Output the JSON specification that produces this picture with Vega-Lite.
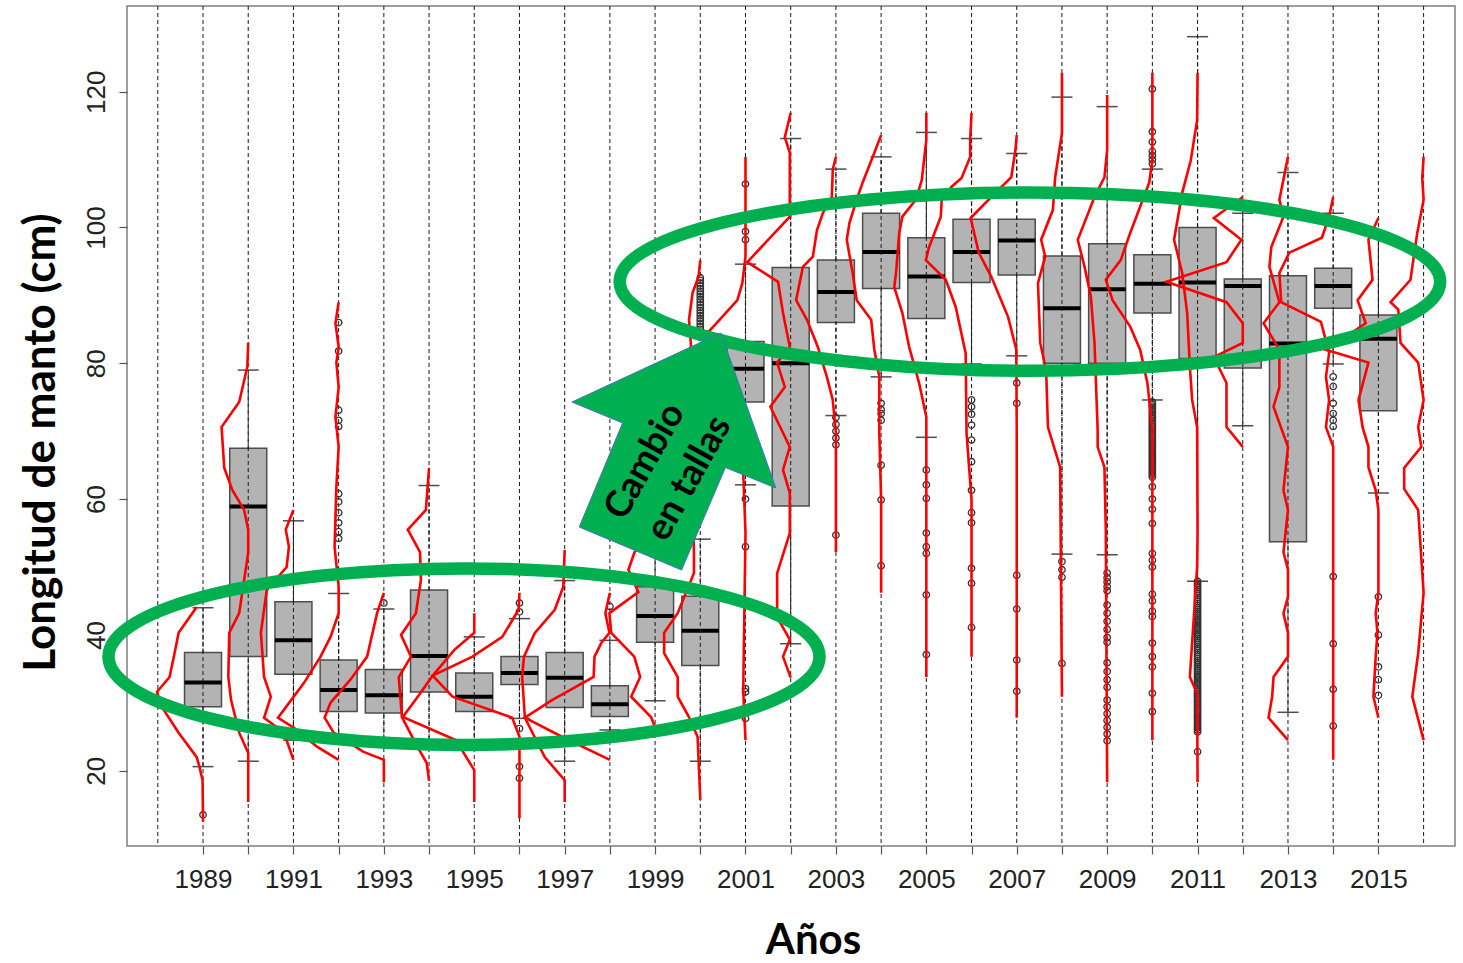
{
  "$schema": "https://vega.github.io/schema/vega-lite/v6.json",
  "width": 1328,
  "height": 840,
  "autosize": {"type": "none"},
  "padding": {"left": 127, "top": 6, "right": 8, "bottom": 117},
  "background": "white",
  "config": {"view": {"stroke": "#7f7f7f", "strokeWidth": 1.5}},
  "datasets": {
    "anios": [
      {"anio":1988},{"anio":1989},{"anio":1990},{"anio":1991},{"anio":1992},{"anio":1993},{"anio":1994},{"anio":1995},{"anio":1996},{"anio":1997},
      {"anio":1998},{"anio":1999},{"anio":2000},{"anio":2001},{"anio":2002},{"anio":2003},{"anio":2004},{"anio":2005},{"anio":2006},{"anio":2007},
      {"anio":2008},{"anio":2009},{"anio":2010},{"anio":2011},{"anio":2012},{"anio":2013},{"anio":2014},{"anio":2015},{"anio":2016}
    ],
    "cajas": [
      {"anio":1989,"inf":20.6,"q1":29.4,"mediana":33.0,"q3":37.4,"sup":44.0},
      {"anio":1990,"inf":21.4,"q1":36.8,"mediana":58.9,"q3":67.5,"sup":79.0},
      {"anio":1991,"inf":24.5,"q1":34.2,"mediana":39.2,"q3":44.9,"sup":56.8},
      {"anio":1992,"inf":24.5,"q1":28.7,"mediana":31.9,"q3":36.3,"sup":46.1},
      {"anio":1993,"inf":23.5,"q1":28.5,"mediana":31.1,"q3":34.9,"sup":43.8},
      {"anio":1994,"inf":23.5,"q1":31.6,"mediana":36.9,"q3":46.6,"sup":62.0},
      {"anio":1995,"inf":24.0,"q1":28.7,"mediana":30.9,"q3":34.4,"sup":39.7},
      {"anio":1996,"inf":27.7,"q1":32.7,"mediana":34.4,"q3":36.8,"sup":42.4},
      {"anio":1997,"inf":21.4,"q1":29.3,"mediana":33.7,"q3":37.4,"sup":48.0},
      {"anio":1998,"inf":26.0,"q1":28.0,"mediana":29.8,"q3":32.5,"sup":39.2},
      {"anio":1999,"inf":30.3,"q1":38.9,"mediana":42.8,"q3":47.1,"sup":56.0},
      {"anio":2000,"inf":21.4,"q1":35.5,"mediana":40.6,"q3":45.7,"sup":54.1},
      {"anio":2001,"inf":62.1,"q1":74.3,"mediana":79.2,"q3":83.2,"sup":94.6},
      {"anio":2002,"inf":38.7,"q1":59.0,"mediana":80.0,"q3":94.1,"sup":113.1},
      {"anio":2003,"inf":72.3,"q1":86.0,"mediana":90.5,"q3":95.2,"sup":108.6},
      {"anio":2004,"inf":78.0,"q1":91.0,"mediana":96.4,"q3":102.1,"sup":110.4},
      {"anio":2005,"inf":69.1,"q1":86.6,"mediana":92.8,"q3":98.5,"sup":114.0},
      {"anio":2006,"inf":79.9,"q1":91.9,"mediana":96.4,"q3":101.2,"sup":113.1},
      {"anio":2007,"inf":81.1,"q1":93.0,"mediana":98.1,"q3":101.2,"sup":110.9},
      {"anio":2008,"inf":51.9,"q1":80.0,"mediana":88.1,"q3":95.8,"sup":119.2},
      {"anio":2009,"inf":51.8,"q1":80.0,"mediana":90.9,"q3":97.6,"sup":117.8},
      {"anio":2010,"inf":74.6,"q1":87.4,"mediana":91.7,"q3":96.0,"sup":108.6},
      {"anio":2011,"inf":47.9,"q1":80.7,"mediana":91.9,"q3":100.0,"sup":128.1},
      {"anio":2012,"inf":70.8,"q1":79.3,"mediana":91.4,"q3":92.4,"sup":102.1},
      {"anio":2013,"inf":28.6,"q1":53.7,"mediana":82.9,"q3":92.9,"sup":108.1},
      {"anio":2014,"inf":79.9,"q1":88.1,"mediana":91.4,"q3":94.0,"sup":102.1},
      {"anio":2015,"inf":60.9,"q1":73.0,"mediana":83.6,"q3":87.1,"sup":99.0}
    ],
    "atipicos": [
      {"anio":1989,"talla":13.5},
      {"anio":1992,"talla":86.0},{"anio":1992,"talla":81.8},{"anio":1992,"talla":73.1},{"anio":1992,"talla":71.6},{"anio":1992,"talla":70.7},{"anio":1992,"talla":60.8},{"anio":1992,"talla":59.6},{"anio":1992,"talla":58.0},{"anio":1992,"talla":56.5},{"anio":1992,"talla":55.2},{"anio":1992,"talla":54.2},
      {"anio":1993,"talla":44.7},
      {"anio":1996,"talla":44.7},{"anio":1996,"talla":43.4},{"anio":1996,"talla":26.2},{"anio":1996,"talla":20.6},{"anio":1996,"talla":18.9},
      {"anio":1998,"talla":44.2},
      {"anio":2000,"talla":92.6},{"anio":2000,"talla":92.2},{"anio":2000,"talla":91.8},{"anio":2000,"talla":91.4},{"anio":2000,"talla":91.0},{"anio":2000,"talla":90.6},{"anio":2000,"talla":90.2},{"anio":2000,"talla":89.8},{"anio":2000,"talla":89.4},{"anio":2000,"talla":89.0},{"anio":2000,"talla":88.6},{"anio":2000,"talla":88.2},{"anio":2000,"talla":87.8},{"anio":2000,"talla":87.4},{"anio":2000,"talla":87.0},{"anio":2000,"talla":86.6},{"anio":2000,"talla":86.2},{"anio":2000,"talla":85.8},{"anio":2000,"talla":85.4},{"anio":2000,"talla":85.0},
      {"anio":2001,"talla":106.4},{"anio":2001,"talla":99.4},{"anio":2001,"talla":98.2},{"anio":2001,"talla":60.0},{"anio":2001,"talla":53.0},{"anio":2001,"talla":32.1},{"anio":2001,"talla":31.6},{"anio":2001,"talla":27.7},
      {"anio":2003,"talla":72.0},{"anio":2003,"talla":71.0},{"anio":2003,"talla":70.0},{"anio":2003,"talla":69.0},{"anio":2003,"talla":68.0},{"anio":2003,"talla":54.7},
      {"anio":2004,"talla":74.1},{"anio":2004,"talla":73.2},{"anio":2004,"talla":72.6},{"anio":2004,"talla":71.6},{"anio":2004,"talla":65.0},{"anio":2004,"talla":59.9},{"anio":2004,"talla":50.2},
      {"anio":2005,"talla":64.3},{"anio":2005,"talla":62.1},{"anio":2005,"talla":60.1},{"anio":2005,"talla":55.0},{"anio":2005,"talla":53.0},{"anio":2005,"talla":52.0},{"anio":2005,"talla":45.9},{"anio":2005,"talla":37.1},
      {"anio":2006,"talla":74.6},{"anio":2006,"talla":73.6},{"anio":2006,"talla":72.5},{"anio":2006,"talla":70.9},{"anio":2006,"talla":68.7},{"anio":2006,"talla":65.5},{"anio":2006,"talla":61.3},{"anio":2006,"talla":58.0},{"anio":2006,"talla":56.5},{"anio":2006,"talla":49.8},{"anio":2006,"talla":47.6},{"anio":2006,"talla":41.1},
      {"anio":2007,"talla":77.1},{"anio":2007,"talla":74.1},{"anio":2007,"talla":48.8},{"anio":2007,"talla":43.8},{"anio":2007,"talla":36.3},{"anio":2007,"talla":31.7},
      {"anio":2008,"talla":50.8},{"anio":2008,"talla":49.6},{"anio":2008,"talla":48.5},{"anio":2008,"talla":35.8},
      {"anio":2009,"talla":49.1},{"anio":2009,"talla":48.4},{"anio":2009,"talla":47.8},{"anio":2009,"talla":47.1},{"anio":2009,"talla":46.5},{"anio":2009,"talla":44.4},{"anio":2009,"talla":43.2},{"anio":2009,"talla":42.0},{"anio":2009,"talla":40.8},{"anio":2009,"talla":39.6},{"anio":2009,"talla":38.9},{"anio":2009,"talla":35.9},{"anio":2009,"talla":34.6},{"anio":2009,"talla":33.4},{"anio":2009,"talla":32.3},{"anio":2009,"talla":30.4},{"anio":2009,"talla":29.4},{"anio":2009,"talla":28.4},{"anio":2009,"talla":27.4},{"anio":2009,"talla":26.4},{"anio":2009,"talla":25.4},{"anio":2009,"talla":24.4},
      {"anio":2010,"talla":120.4},{"anio":2010,"talla":114.1},{"anio":2010,"talla":112.6},{"anio":2010,"talla":111.2},{"anio":2010,"talla":110.6},{"anio":2010,"talla":110.0},{"anio":2010,"talla":109.4},
      {"anio":2010,"talla":74.3},{"anio":2010,"talla":74.0},{"anio":2010,"talla":73.7},{"anio":2010,"talla":73.4},{"anio":2010,"talla":73.1},{"anio":2010,"talla":72.8},{"anio":2010,"talla":72.5},{"anio":2010,"talla":72.2},{"anio":2010,"talla":71.9},{"anio":2010,"talla":71.6},{"anio":2010,"talla":71.3},{"anio":2010,"talla":71.0},{"anio":2010,"talla":70.7},{"anio":2010,"talla":70.4},{"anio":2010,"talla":70.1},{"anio":2010,"talla":69.8},{"anio":2010,"talla":69.5},{"anio":2010,"talla":69.2},{"anio":2010,"talla":68.9},{"anio":2010,"talla":68.6},{"anio":2010,"talla":68.3},{"anio":2010,"talla":68.0},{"anio":2010,"talla":67.7},{"anio":2010,"talla":67.4},{"anio":2010,"talla":67.1},{"anio":2010,"talla":66.8},{"anio":2010,"talla":66.5},{"anio":2010,"talla":66.2},{"anio":2010,"talla":65.9},{"anio":2010,"talla":65.6},{"anio":2010,"talla":65.3},{"anio":2010,"talla":65.0},{"anio":2010,"talla":64.7},{"anio":2010,"talla":64.4},{"anio":2010,"talla":64.1},{"anio":2010,"talla":63.8},{"anio":2010,"talla":63.5},{"anio":2010,"talla":63.2},
      {"anio":2010,"talla":61.8},{"anio":2010,"talla":60.0},{"anio":2010,"talla":58.5},{"anio":2010,"talla":56.4},{"anio":2010,"talla":52.0},{"anio":2010,"talla":51.0},{"anio":2010,"talla":50.0},{"anio":2010,"talla":46.0},{"anio":2010,"talla":45.0},{"anio":2010,"talla":43.5},{"anio":2010,"talla":42.7},{"anio":2010,"talla":38.8},{"anio":2010,"talla":36.8},{"anio":2010,"talla":35.3},{"anio":2010,"talla":31.4},{"anio":2010,"talla":28.7},
      {"anio":2011,"talla":47.9},{"anio":2011,"talla":47.6},{"anio":2011,"talla":47.3},{"anio":2011,"talla":47.0},{"anio":2011,"talla":46.7},{"anio":2011,"talla":46.4},{"anio":2011,"talla":46.1},{"anio":2011,"talla":45.8},{"anio":2011,"talla":45.5},{"anio":2011,"talla":45.2},{"anio":2011,"talla":44.9},{"anio":2011,"talla":44.6},{"anio":2011,"talla":44.3},{"anio":2011,"talla":44.0},{"anio":2011,"talla":43.7},{"anio":2011,"talla":43.4},{"anio":2011,"talla":43.1},{"anio":2011,"talla":42.8},{"anio":2011,"talla":42.5},{"anio":2011,"talla":42.2},{"anio":2011,"talla":41.9},{"anio":2011,"talla":41.6},{"anio":2011,"talla":41.3},{"anio":2011,"talla":41.0},{"anio":2011,"talla":40.7},{"anio":2011,"talla":40.4},{"anio":2011,"talla":40.1},{"anio":2011,"talla":39.8},{"anio":2011,"talla":39.5},{"anio":2011,"talla":39.2},{"anio":2011,"talla":38.9},{"anio":2011,"talla":38.6},{"anio":2011,"talla":38.3},{"anio":2011,"talla":38.0},{"anio":2011,"talla":37.7},{"anio":2011,"talla":37.4},{"anio":2011,"talla":37.1},{"anio":2011,"talla":36.8},
      {"anio":2011,"talla":36.5},{"anio":2011,"talla":36.2},{"anio":2011,"talla":35.9},{"anio":2011,"talla":35.6},{"anio":2011,"talla":35.3},{"anio":2011,"talla":35.0},{"anio":2011,"talla":34.7},{"anio":2011,"talla":34.4},{"anio":2011,"talla":34.1},{"anio":2011,"talla":33.8},{"anio":2011,"talla":33.5},{"anio":2011,"talla":33.2},{"anio":2011,"talla":32.9},{"anio":2011,"talla":32.6},{"anio":2011,"talla":32.3},{"anio":2011,"talla":32.0},{"anio":2011,"talla":31.7},{"anio":2011,"talla":31.4},{"anio":2011,"talla":31.1},{"anio":2011,"talla":30.8},{"anio":2011,"talla":30.5},{"anio":2011,"talla":30.2},{"anio":2011,"talla":29.9},{"anio":2011,"talla":29.6},{"anio":2011,"talla":29.3},{"anio":2011,"talla":29.0},{"anio":2011,"talla":28.7},{"anio":2011,"talla":28.4},{"anio":2011,"talla":28.1},{"anio":2011,"talla":27.8},{"anio":2011,"talla":27.5},{"anio":2011,"talla":27.2},{"anio":2011,"talla":26.9},{"anio":2011,"talla":26.6},{"anio":2011,"talla":26.3},{"anio":2011,"talla":26.0},{"anio":2011,"talla":25.7},{"anio":2011,"talla":22.8},
      {"anio":2014,"talla":78.0},{"anio":2014,"talla":76.6},{"anio":2014,"talla":74.1},{"anio":2014,"talla":72.6},{"anio":2014,"talla":71.6},{"anio":2014,"talla":70.7},{"anio":2014,"talla":48.6},{"anio":2014,"talla":38.7},{"anio":2014,"talla":32.0},{"anio":2014,"talla":26.6},
      {"anio":2015,"talla":45.6},{"anio":2015,"talla":40.0},{"anio":2015,"talla":35.3},{"anio":2015,"talla":33.4},{"anio":2015,"talla":31.1}
    ],
    "frecuencias": [
      {"anio":1989,"pos":1988.86,"talla":44.1},{"anio":1989,"pos":1988.46,"talla":40.3},{"anio":1989,"pos":1988.37,"talla":37.3},{"anio":1989,"pos":1988.26,"talla":33.8},{"anio":1989,"pos":1987.98,"talla":31.6},{"anio":1989,"pos":1988.09,"talla":29.4},{"anio":1989,"pos":1988.46,"talla":25.6},{"anio":1989,"pos":1988.86,"talla":22.0},{"anio":1989,"pos":1988.92,"talla":20.6},{"anio":1989,"pos":1988.99,"talla":18.6},{"anio":1989,"pos":1989.0,"talla":12.5},
      {"anio":1990,"pos":1990.0,"talla":83.0},{"anio":1990,"pos":1989.98,"talla":79.5},{"anio":1990,"pos":1989.80,"talla":74.3},{"anio":1990,"pos":1989.41,"talla":70.6},{"anio":1990,"pos":1989.47,"talla":64.6},{"anio":1990,"pos":1989.65,"talla":61.3},{"anio":1990,"pos":1989.91,"talla":58.4},{"anio":1990,"pos":1990.0,"talla":55.5},{"anio":1990,"pos":1990.0,"talla":52.1},{"anio":1990,"pos":1989.91,"talla":48.1},{"anio":1990,"pos":1989.80,"talla":43.2},{"anio":1990,"pos":1989.58,"talla":40.3},{"anio":1990,"pos":1989.56,"talla":33.8},{"anio":1990,"pos":1989.62,"talla":30.4},{"anio":1990,"pos":1989.80,"talla":25.6},{"anio":1990,"pos":1990.0,"talla":22.6},{"anio":1990,"pos":1990.0,"talla":15.4},
      {"anio":1991,"pos":1991.0,"talla":58.4},{"anio":1991,"pos":1990.83,"talla":55.5},{"anio":1991,"pos":1990.90,"talla":53.0},{"anio":1991,"pos":1990.85,"talla":50.0},{"anio":1991,"pos":1990.41,"talla":46.6},{"anio":1991,"pos":1990.28,"talla":40.3},{"anio":1991,"pos":1990.35,"talla":33.8},{"anio":1991,"pos":1990.50,"talla":30.9},{"anio":1991,"pos":1990.35,"talla":27.8},{"anio":1991,"pos":1990.79,"talla":25.6},{"anio":1991,"pos":1991.0,"talla":21.6},
      {"anio":1992,"pos":1992.0,"talla":89.0},{"anio":1992,"pos":1991.93,"talla":85.9},{"anio":1992,"pos":1992.0,"talla":82.4},{"anio":1992,"pos":1991.95,"talla":80.1},{"anio":1992,"pos":1992.0,"talla":76.5},{"anio":1992,"pos":1991.93,"talla":72.1},{"anio":1992,"pos":1992.0,"talla":67.7},{"anio":1992,"pos":1991.95,"talla":61.8},{"anio":1992,"pos":1991.91,"talla":53.0},{"anio":1992,"pos":1992.0,"talla":47.1},{"anio":1992,"pos":1992.0,"talla":43.2},{"anio":1992,"pos":1991.82,"talla":39.7},{"anio":1992,"pos":1991.60,"talla":36.8},{"anio":1992,"pos":1991.23,"talla":32.9},{"anio":1992,"pos":1990.66,"talla":27.8},{"anio":1992,"pos":1991.01,"talla":26.3},{"anio":1992,"pos":1991.53,"talla":23.5},{"anio":1992,"pos":1992.0,"talla":21.6},
      {"anio":1993,"pos":1993.0,"talla":46.2},{"anio":1993,"pos":1992.85,"talla":43.2},{"anio":1993,"pos":1992.63,"talla":36.8},{"anio":1993,"pos":1992.26,"talla":33.4},{"anio":1993,"pos":1991.82,"talla":30.0},{"anio":1993,"pos":1991.69,"talla":27.8},{"anio":1993,"pos":1991.89,"talla":25.6},{"anio":1993,"pos":1992.54,"talla":22.8},{"anio":1993,"pos":1993.0,"talla":21.6},{"anio":1993,"pos":1993.0,"talla":18.3},
      {"anio":1994,"pos":1994.0,"talla":64.6},{"anio":1994,"pos":1993.93,"talla":58.4},{"anio":1994,"pos":1993.53,"talla":55.5},{"anio":1994,"pos":1993.80,"talla":52.2},{"anio":1994,"pos":1993.82,"talla":48.1},{"anio":1994,"pos":1993.71,"talla":43.2},{"anio":1994,"pos":1993.38,"talla":40.0},{"anio":1994,"pos":1993.60,"talla":36.8},{"anio":1994,"pos":1993.33,"talla":33.8},{"anio":1994,"pos":1993.40,"talla":27.9},{"anio":1994,"pos":1993.72,"talla":23.8},{"anio":1994,"pos":1993.95,"talla":21.1},{"anio":1994,"pos":1994.0,"talla":18.5},
      {"anio":1995,"pos":1995.0,"talla":43.2},{"anio":1995,"pos":1995.0,"talla":40.3},{"anio":1995,"pos":1994.56,"talla":37.8},{"anio":1995,"pos":1994.08,"talla":34.0},{"anio":1995,"pos":1993.75,"talla":30.9},{"anio":1995,"pos":1993.42,"talla":27.9},{"anio":1995,"pos":1994.59,"talla":24.5},{"anio":1995,"pos":1995.0,"talla":20.1},{"anio":1995,"pos":1995.0,"talla":15.4},
      {"anio":1996,"pos":1996.0,"talla":46.2},{"anio":1996,"pos":1995.98,"talla":43.7},{"anio":1996,"pos":1995.62,"talla":39.7},{"anio":1996,"pos":1994.96,"talla":36.8},{"anio":1996,"pos":1994.08,"talla":34.0},{"anio":1996,"pos":1994.52,"talla":30.9},{"anio":1996,"pos":1995.84,"talla":27.8},{"anio":1996,"pos":1996.0,"talla":25.0},{"anio":1996,"pos":1996.0,"talla":13.0},
      {"anio":1997,"pos":1997.0,"talla":52.5},{"anio":1997,"pos":1996.97,"talla":47.1},{"anio":1997,"pos":1996.78,"talla":43.7},{"anio":1997,"pos":1996.34,"talla":40.3},{"anio":1997,"pos":1996.10,"talla":36.8},{"anio":1997,"pos":1996.06,"talla":33.8},{"anio":1997,"pos":1996.12,"talla":27.8},{"anio":1997,"pos":1996.56,"talla":22.0},{"anio":1997,"pos":1997.0,"talla":18.6},{"anio":1997,"pos":1997.0,"talla":15.4},
      {"anio":1998,"pos":1998.0,"talla":46.2},{"anio":1998,"pos":1997.90,"talla":43.2},{"anio":1998,"pos":1997.99,"talla":40.3},{"anio":1998,"pos":1997.81,"talla":38.8},{"anio":1998,"pos":1997.66,"talla":36.8},{"anio":1998,"pos":1997.64,"talla":33.8},{"anio":1998,"pos":1996.72,"talla":30.4},{"anio":1998,"pos":1996.12,"talla":27.8},{"anio":1998,"pos":1996.94,"talla":25.0},{"anio":1998,"pos":1998.0,"talla":21.6},
      {"anio":1999,"pos":1999.0,"talla":56.9},{"anio":1999,"pos":1998.54,"talla":52.1},{"anio":1999,"pos":1998.41,"talla":49.6},{"anio":1999,"pos":1998.63,"talla":46.3},{"anio":1999,"pos":1997.99,"talla":43.2},{"anio":1999,"pos":1998.03,"talla":40.3},{"anio":1999,"pos":1998.54,"talla":36.8},{"anio":1999,"pos":1998.67,"talla":33.8},{"anio":1999,"pos":1998.47,"talla":30.9},{"anio":1999,"pos":1998.91,"talla":27.9},{"anio":1999,"pos":1999.0,"talla":26.4},
      {"anio":2000,"pos":2000.0,"talla":95.2},{"anio":2000,"pos":1999.96,"talla":92.7},{"anio":2000,"pos":1999.83,"talla":90.4},{"anio":2000,"pos":1999.75,"talla":86.4},{"anio":2000,"pos":1999.79,"talla":83.0},{"anio":2000,"pos":1999.86,"talla":51.5},{"anio":2000,"pos":1999.86,"talla":49.1},{"anio":2000,"pos":1999.50,"talla":43.2},{"anio":2000,"pos":1999.20,"talla":40.3},{"anio":2000,"pos":1999.20,"talla":37.3},{"anio":2000,"pos":1999.50,"talla":33.8},{"anio":2000,"pos":1999.50,"talla":30.9},{"anio":2000,"pos":1999.75,"talla":27.9},{"anio":2000,"pos":1999.94,"talla":25.0},{"anio":2000,"pos":2000.0,"talla":15.7},
      {"anio":2001,"pos":2001.0,"talla":110.4},{"anio":2001,"pos":2001.0,"talla":95.7},{"anio":2001,"pos":2000.93,"talla":91.8},{"anio":2001,"pos":2000.82,"talla":89.3},{"anio":2001,"pos":2000.36,"talla":85.9},{"anio":2001,"pos":2000.16,"talla":84.5},{"anio":2001,"pos":2000.89,"talla":74.6},{"anio":2001,"pos":2000.95,"talla":63.9},{"anio":2001,"pos":2001.0,"talla":55.0},{"anio":2001,"pos":2000.95,"talla":31.9},{"anio":2001,"pos":2001.0,"talla":24.5},
      {"anio":2002,"pos":2002.0,"talla":116.9},{"anio":2002,"pos":2001.87,"talla":113.3},{"anio":2002,"pos":2001.98,"talla":111.0},{"anio":2002,"pos":2001.98,"talla":101.6},{"anio":2002,"pos":2001.04,"talla":94.9},{"anio":2002,"pos":2001.72,"talla":92.0},{"anio":2002,"pos":2001.83,"talla":87.4},{"anio":2002,"pos":2001.98,"talla":82.4},{"anio":2002,"pos":2001.70,"talla":80.1},{"anio":2002,"pos":2001.87,"talla":76.5},{"anio":2002,"pos":2001.55,"talla":73.6},{"anio":2002,"pos":2001.98,"talla":67.7},{"anio":2002,"pos":2001.83,"talla":64.3},{"anio":2002,"pos":2001.98,"talla":60.9},{"anio":2002,"pos":2001.98,"talla":55.0},{"anio":2002,"pos":2001.70,"talla":49.1},{"anio":2002,"pos":2001.70,"talla":42.6},{"anio":2002,"pos":2001.98,"talla":39.3},{"anio":2002,"pos":2001.83,"talla":36.8},{"anio":2002,"pos":2002.0,"talla":33.7},
      {"anio":2003,"pos":2003.0,"talla":110.4},{"anio":2003,"pos":2002.93,"talla":108.5},{"anio":2003,"pos":2002.91,"talla":104.5},{"anio":2003,"pos":2002.71,"talla":102.1},{"anio":2003,"pos":2002.58,"talla":99.6},{"anio":2003,"pos":2002.49,"talla":95.7},{"anio":2003,"pos":2002.27,"talla":94.2},{"anio":2003,"pos":2002.12,"talla":89.3},{"anio":2003,"pos":2002.36,"talla":86.4},{"anio":2003,"pos":2002.60,"talla":82.4},{"anio":2003,"pos":2002.80,"talla":78.0},{"anio":2003,"pos":2002.93,"talla":74.6},{"anio":2003,"pos":2003.0,"talla":69.7},{"anio":2003,"pos":2003.0,"talla":59.9},{"anio":2003,"pos":2003.0,"talla":52.2},
      {"anio":2004,"pos":2004.0,"talla":113.6},{"anio":2004,"pos":2003.85,"talla":111.0},{"anio":2004,"pos":2003.59,"talla":106.6},{"anio":2004,"pos":2003.46,"talla":104.1},{"anio":2004,"pos":2003.30,"talla":100.7},{"anio":2004,"pos":2003.24,"talla":98.2},{"anio":2004,"pos":2003.37,"talla":93.3},{"anio":2004,"pos":2003.46,"talla":89.3},{"anio":2004,"pos":2003.78,"talla":86.4},{"anio":2004,"pos":2003.85,"talla":82.0},{"anio":2004,"pos":2003.96,"talla":78.0},{"anio":2004,"pos":2003.96,"talla":69.7},{"anio":2004,"pos":2004.0,"talla":59.9},{"anio":2004,"pos":2004.0,"talla":46.2},
      {"anio":2005,"pos":2005.0,"talla":116.9},{"anio":2005,"pos":2005.0,"talla":112.9},{"anio":2005,"pos":2004.90,"talla":107.0},{"anio":2005,"pos":2004.77,"talla":104.1},{"anio":2005,"pos":2004.47,"talla":101.6},{"anio":2005,"pos":2004.40,"talla":99.2},{"anio":2005,"pos":2004.33,"talla":93.3},{"anio":2005,"pos":2004.29,"talla":91.2},{"anio":2005,"pos":2004.47,"talla":87.4},{"anio":2005,"pos":2004.62,"talla":82.4},{"anio":2005,"pos":2004.84,"talla":77.1},{"anio":2005,"pos":2005.0,"talla":72.1},{"anio":2005,"pos":2005.0,"talla":59.9},{"anio":2005,"pos":2005.0,"talla":33.8},
      {"anio":2006,"pos":2006.0,"talla":116.9},{"anio":2006,"pos":2005.97,"talla":112.9},{"anio":2006,"pos":2005.97,"talla":110.4},{"anio":2006,"pos":2005.78,"talla":107.3},{"anio":2006,"pos":2005.56,"talla":106.0},{"anio":2006,"pos":2005.34,"talla":104.1},{"anio":2006,"pos":2005.32,"talla":101.6},{"anio":2006,"pos":2005.06,"talla":97.1},{"anio":2006,"pos":2004.99,"talla":95.2},{"anio":2006,"pos":2005.43,"talla":92.3},{"anio":2006,"pos":2005.65,"talla":88.3},{"anio":2006,"pos":2005.87,"talla":81.5},{"anio":2006,"pos":2005.89,"talla":69.7},{"anio":2006,"pos":2006.0,"talla":59.9},{"anio":2006,"pos":2006.0,"talla":36.8},
      {"anio":2007,"pos":2007.0,"talla":113.6},{"anio":2007,"pos":2006.97,"talla":111.4},{"anio":2007,"pos":2006.88,"talla":107.4},{"anio":2007,"pos":2006.44,"talla":104.5},{"anio":2007,"pos":2005.98,"talla":101.4},{"anio":2007,"pos":2006.16,"talla":96.3},{"anio":2007,"pos":2006.44,"talla":92.7},{"anio":2007,"pos":2006.81,"talla":86.8},{"anio":2007,"pos":2006.99,"talla":82.0},{"anio":2007,"pos":2007.0,"talla":70.2},{"anio":2007,"pos":2007.0,"talla":27.8},
      {"anio":2008,"pos":2008.0,"talla":122.8},{"anio":2008,"pos":2008.0,"talla":118.8},{"anio":2008,"pos":2008.0,"talla":113.9},{"anio":2008,"pos":2007.85,"talla":107.4},{"anio":2008,"pos":2007.80,"talla":102.6},{"anio":2008,"pos":2007.54,"talla":98.2},{"anio":2008,"pos":2007.63,"talla":95.7},{"anio":2008,"pos":2007.47,"talla":91.8},{"anio":2008,"pos":2007.52,"talla":83.0},{"anio":2008,"pos":2007.65,"talla":79.0},{"anio":2008,"pos":2007.69,"talla":70.6},{"anio":2008,"pos":2007.96,"talla":64.7},{"anio":2008,"pos":2008.0,"talla":30.9},
      {"anio":2009,"pos":2009.0,"talla":119.5},{"anio":2009,"pos":2009.0,"talla":111.4},{"anio":2009,"pos":2008.94,"talla":107.4},{"anio":2009,"pos":2008.72,"talla":104.5},{"anio":2009,"pos":2008.35,"talla":98.2},{"anio":2009,"pos":2008.50,"talla":94.2},{"anio":2009,"pos":2008.64,"talla":89.8},{"anio":2009,"pos":2008.72,"talla":83.0},{"anio":2009,"pos":2008.79,"talla":70.2},{"anio":2009,"pos":2008.79,"talla":67.7},{"anio":2009,"pos":2008.94,"talla":64.7},{"anio":2009,"pos":2008.97,"talla":55.5},{"anio":2009,"pos":2009.0,"talla":18.3},
      {"anio":2010,"pos":2010.0,"talla":122.8},{"anio":2010,"pos":2010.0,"talla":118.8},{"anio":2010,"pos":2010.0,"talla":109.9},{"anio":2010,"pos":2009.93,"talla":106.6},{"anio":2010,"pos":2009.51,"talla":99.2},{"anio":2010,"pos":2009.30,"talla":95.2},{"anio":2010,"pos":2008.97,"talla":92.3},{"anio":2010,"pos":2009.12,"talla":89.3},{"anio":2010,"pos":2009.51,"talla":85.4},{"anio":2010,"pos":2009.73,"talla":82.0},{"anio":2010,"pos":2009.89,"talla":77.1},{"anio":2010,"pos":2010.0,"talla":70.2},{"anio":2010,"pos":2010.0,"talla":24.5},
      {"anio":2011,"pos":2011.0,"talla":122.8},{"anio":2011,"pos":2010.99,"talla":115.8},{"anio":2011,"pos":2010.85,"talla":109.9},{"anio":2011,"pos":2010.66,"talla":105.1},{"anio":2011,"pos":2010.48,"talla":98.2},{"anio":2011,"pos":2010.66,"talla":93.3},{"anio":2011,"pos":2010.77,"talla":87.4},{"anio":2011,"pos":2010.83,"talla":79.5},{"anio":2011,"pos":2010.88,"talla":74.6},{"anio":2011,"pos":2010.99,"talla":70.6},{"anio":2011,"pos":2011.0,"talla":55.0},{"anio":2011,"pos":2010.99,"talla":50.0},{"anio":2011,"pos":2010.83,"talla":33.8},{"anio":2011,"pos":2010.99,"talla":31.4},{"anio":2011,"pos":2011.0,"talla":18.3},
      {"anio":2012,"pos":2012.0,"talla":104.5},{"anio":2012,"pos":2011.36,"talla":101.4},{"anio":2012,"pos":2011.97,"talla":98.2},{"anio":2012,"pos":2011.64,"talla":94.9},{"anio":2012,"pos":2010.31,"talla":92.0},{"anio":2012,"pos":2011.64,"talla":89.0},{"anio":2012,"pos":2012.0,"talla":85.9},{"anio":2012,"pos":2012.0,"talla":83.0},{"anio":2012,"pos":2011.36,"talla":80.9},{"anio":2012,"pos":2011.64,"talla":77.1},{"anio":2012,"pos":2011.64,"talla":70.6},{"anio":2012,"pos":2012.0,"talla":67.7},
      {"anio":2013,"pos":2013.0,"talla":110.4},{"anio":2013,"pos":2012.81,"talla":104.1},{"anio":2013,"pos":2012.90,"talla":101.6},{"anio":2013,"pos":2012.63,"talla":97.1},{"anio":2013,"pos":2012.59,"talla":94.2},{"anio":2013,"pos":2012.81,"talla":89.0},{"anio":2013,"pos":2012.46,"talla":85.9},{"anio":2013,"pos":2012.81,"talla":82.0},{"anio":2013,"pos":2012.81,"talla":76.5},{"anio":2013,"pos":2012.68,"talla":73.6},{"anio":2013,"pos":2013.0,"talla":67.7},{"anio":2013,"pos":2012.90,"talla":61.3},{"anio":2013,"pos":2013.0,"talla":58.4},{"anio":2013,"pos":2012.90,"talla":52.2},{"anio":2013,"pos":2013.0,"talla":49.6},{"anio":2013,"pos":2013.0,"talla":45.6},{"anio":2013,"pos":2012.90,"talla":43.2},{"anio":2013,"pos":2013.0,"talla":40.3},{"anio":2013,"pos":2013.0,"talla":36.8},{"anio":2013,"pos":2012.68,"talla":33.8},{"anio":2013,"pos":2012.65,"talla":30.9},{"anio":2013,"pos":2012.57,"talla":27.8},{"anio":2013,"pos":2013.0,"talla":24.5},
      {"anio":2014,"pos":2014.0,"talla":104.5},{"anio":2014,"pos":2013.91,"talla":101.6},{"anio":2014,"pos":2013.75,"talla":98.5},{"anio":2014,"pos":2013.03,"talla":96.3},{"anio":2014,"pos":2012.81,"talla":93.3},{"anio":2014,"pos":2012.85,"talla":89.0},{"anio":2014,"pos":2013.73,"talla":86.1},{"anio":2014,"pos":2013.91,"talla":81.5},{"anio":2014,"pos":2013.84,"talla":78.0},{"anio":2014,"pos":2013.91,"talla":74.6},{"anio":2014,"pos":2013.84,"talla":70.6},{"anio":2014,"pos":2014.0,"talla":67.7},{"anio":2014,"pos":2014.0,"talla":21.6},
      {"anio":2015,"pos":2015.0,"talla":101.4},{"anio":2015,"pos":2014.78,"talla":98.2},{"anio":2015,"pos":2014.87,"talla":92.3},{"anio":2015,"pos":2014.54,"talla":89.3},{"anio":2015,"pos":2014.72,"talla":85.9},{"anio":2015,"pos":2013.84,"talla":82.0},{"anio":2015,"pos":2014.78,"talla":80.1},{"anio":2015,"pos":2014.56,"talla":74.6},{"anio":2015,"pos":2014.65,"talla":70.6},{"anio":2015,"pos":2014.78,"talla":67.7},{"anio":2015,"pos":2014.78,"talla":64.7},{"anio":2015,"pos":2014.94,"talla":61.3},{"anio":2015,"pos":2015.0,"talla":58.4},{"anio":2015,"pos":2015.0,"talla":46.2},{"anio":2015,"pos":2014.94,"talla":43.2},{"anio":2015,"pos":2014.98,"talla":40.3},{"anio":2015,"pos":2014.94,"talla":36.8},{"anio":2015,"pos":2014.89,"talla":30.9},{"anio":2015,"pos":2015.0,"talla":27.8},
      {"anio":2016,"pos":2016.0,"talla":110.4},{"anio":2016,"pos":2015.97,"talla":107.3},{"anio":2016,"pos":2016.0,"talla":104.1},{"anio":2016,"pos":2015.86,"talla":99.2},{"anio":2016,"pos":2015.75,"talla":94.2},{"anio":2016,"pos":2015.71,"talla":92.3},{"anio":2016,"pos":2015.27,"talla":89.0},{"anio":2016,"pos":2015.44,"talla":87.9},{"anio":2016,"pos":2015.49,"talla":83.0},{"anio":2016,"pos":2015.88,"talla":80.1},{"anio":2016,"pos":2016.0,"talla":74.6},{"anio":2016,"pos":2015.88,"talla":70.6},{"anio":2016,"pos":2015.95,"talla":67.7},{"anio":2016,"pos":2015.57,"talla":64.6},{"anio":2016,"pos":2015.57,"talla":61.5},{"anio":2016,"pos":2015.88,"talla":58.4},{"anio":2016,"pos":2016.0,"talla":46.2},{"anio":2016,"pos":2015.88,"talla":37.3},{"anio":2016,"pos":2015.75,"talla":30.9},{"anio":2016,"pos":2016.0,"talla":24.5}
    ]
  },
  "layer": [
    {
      "data": {"name": "cajas"},
      "mark": {"type": "bar", "size": 37, "fill": "#b3b3b3", "stroke": "#4d4d4d", "strokeWidth": 1.5, "opacity": 1},
      "encoding": {
        "x": {
          "field": "anio", "type": "quantitative",
          "scale": {"domain": [1987.429, 2016.584], "nice": false, "zero": false},
          "axis": {
            "values": [1989,1990,1991,1992,1993,1994,1995,1996,1997,1998,1999,2000,2001,2002,2003,2004,2005,2006,2007,2008,2009,2010,2011,2012,2013,2014,2015],
            "format": "d",
            "labelExpr": "datum.value % 2 == 1 ? datum.label : ''",
            "domain": false, "grid": false,
            "tickSize": 8, "tickColor": "#555555", "tickWidth": 1.2,
            "labelFont": "Liberation Sans", "labelFontSize": 26, "labelColor": "#222222",
            "labelPadding": 12, "labelBaseline": "top", "labelAlign": "center", "labelAngle": 0,
            "labelOverlap": false, "labelFlush": false,
            "title": "Años", "titleFont": "Lato", "titleFontSize": 42, "titleFontWeight": "bold", "titleColor": "#000000",
            "titleX": 686, "titleY": 107, "titleAlign": "center", "titleBaseline": "alphabetic", "titleAngle": 0
          }
        },
        "y": {
          "field": "q1", "type": "quantitative",
          "scale": {"domain": [8.91, 132.62], "nice": false, "zero": false},
          "axis": {
            "values": [20, 40, 60, 80, 100, 120],
            "domain": false, "grid": false,
            "tickSize": 8, "tickColor": "#555555", "tickWidth": 1.2,
            "labelAngle": 270, "labelAlign": "center", "labelBaseline": "alphabetic", "labelPadding": 15,
            "labelFont": "Liberation Sans", "labelFontSize": 26, "labelColor": "#222222",
            "title": "Longitud de manto (cm)", "titleFont": "Lato", "titleFontSize": 44, "titleFontWeight": "bold", "titleColor": "#000000",
            "titleAngle": 270, "titleX": -73, "titleY": 436, "titleAlign": "center", "titleBaseline": "alphabetic"
          }
        },
        "y2": {"field": "q3"}
      }
    },
    {
      "data": {"name": "cajas"},
      "mark": {"type": "rule", "color": "#1f1f1f", "strokeWidth": 1.2, "strokeDash": [4, 3]},
      "encoding": {
        "x": {"field": "anio", "type": "quantitative", "scale": {"domain": [1987.429, 2016.584], "nice": false, "zero": false}},
        "y": {"field": "q3", "type": "quantitative", "scale": {"domain": [8.91, 132.62], "nice": false, "zero": false}},
        "y2": {"field": "sup"}
      }
    },
    {
      "data": {"name": "cajas"},
      "mark": {"type": "rule", "color": "#1f1f1f", "strokeWidth": 1.2, "strokeDash": [4, 3]},
      "encoding": {
        "x": {"field": "anio", "type": "quantitative", "scale": {"domain": [1987.429, 2016.584], "nice": false, "zero": false}},
        "y": {"field": "inf", "type": "quantitative", "scale": {"domain": [8.91, 132.62], "nice": false, "zero": false}},
        "y2": {"field": "q1"}
      }
    },
    {
      "data": {"name": "cajas"},
      "mark": {"type": "tick", "orient": "horizontal", "size": 21, "thickness": 1.5, "color": "#4d4d4d", "opacity": 1},
      "encoding": {
        "x": {"field": "anio", "type": "quantitative", "scale": {"domain": [1987.429, 2016.584], "nice": false, "zero": false}},
        "y": {"field": "sup", "type": "quantitative", "scale": {"domain": [8.91, 132.62], "nice": false, "zero": false}}
      }
    },
    {
      "data": {"name": "cajas"},
      "mark": {"type": "tick", "orient": "horizontal", "size": 21, "thickness": 1.5, "color": "#4d4d4d", "opacity": 1},
      "encoding": {
        "x": {"field": "anio", "type": "quantitative", "scale": {"domain": [1987.429, 2016.584], "nice": false, "zero": false}},
        "y": {"field": "inf", "type": "quantitative", "scale": {"domain": [8.91, 132.62], "nice": false, "zero": false}}
      }
    },
    {
      "data": {"name": "cajas"},
      "mark": {"type": "tick", "orient": "horizontal", "size": 37, "thickness": 4, "color": "#000000", "opacity": 1},
      "encoding": {
        "x": {"field": "anio", "type": "quantitative", "scale": {"domain": [1987.429, 2016.584], "nice": false, "zero": false}},
        "y": {"field": "mediana", "type": "quantitative", "scale": {"domain": [8.91, 132.62], "nice": false, "zero": false}}
      }
    },
    {
      "data": {"name": "anios"},
      "mark": {"type": "rule", "color": "#1a1a1a", "strokeWidth": 1, "strokeDash": [4, 3]},
      "encoding": {
        "x": {"field": "anio", "type": "quantitative", "scale": {"domain": [1987.429, 2016.584], "nice": false, "zero": false}}
      }
    },
    {
      "data": {"name": "atipicos"},
      "mark": {"type": "point", "shape": "circle", "filled": false, "size": 42, "stroke": "#333333", "strokeWidth": 1.3, "opacity": 1},
      "encoding": {
        "x": {"field": "anio", "type": "quantitative", "scale": {"domain": [1987.429, 2016.584], "nice": false, "zero": false}},
        "y": {"field": "talla", "type": "quantitative", "scale": {"domain": [8.91, 132.62], "nice": false, "zero": false}}
      }
    },
    {
      "data": {"name": "frecuencias"},
      "mark": {"type": "line", "color": "#ff0000", "strokeWidth": 2.6, "strokeJoin": "miter", "opacity": 1},
      "encoding": {
        "x": {"field": "pos", "type": "quantitative", "scale": {"domain": [1987.429, 2016.584], "nice": false, "zero": false}},
        "y": {"field": "talla", "type": "quantitative", "scale": {"domain": [8.91, 132.62], "nice": false, "zero": false}},
        "detail": {"field": "anio", "type": "nominal"},
        "order": {"field": "talla", "type": "quantitative"}
      }
    },
    {
      "data": {"values": [{}]},
      "mark": {"type": "point", "shape": "M-1,0A1,0.2484,0,1,1,1,0A1,0.2484,0,1,1,-1,0Z", "size": 505521, "filled": false, "stroke": "#00b050", "strokeWidth": 12.5, "opacity": 1},
      "encoding": {
        "x": {"datum": 1994.773, "type": "quantitative", "scale": {"domain": [1987.429, 2016.584], "nice": false, "zero": false}},
        "y": {"datum": 36.79, "type": "quantitative", "scale": {"domain": [8.91, 132.62], "nice": false, "zero": false}}
      }
    },
    {
      "data": {"values": [{}]},
      "mark": {"type": "point", "shape": "M-1,0A1,0.2174,0,1,1,1,0A1,0.2174,0,1,1,-1,0Z", "size": 673220, "filled": false, "stroke": "#00b050", "strokeWidth": 12.5, "opacity": 1},
      "encoding": {
        "x": {"datum": 2007.292, "type": "quantitative", "scale": {"domain": [1987.429, 2016.584], "nice": false, "zero": false}},
        "y": {"datum": 92.02, "type": "quantitative", "scale": {"domain": [8.91, 132.62], "nice": false, "zero": false}}
      }
    },
    {
      "data": {"values": [{}]},
      "mark": {"type": "point", "shape": "M47,-118L102,37L51.5,16.5L7.7,119L-94.7,76L-51.3,-28L-102,-49Z", "size": 4, "filled": true, "fill": "#00b050", "stroke": "#4472c4", "strokeWidth": 1, "opacity": 1},
      "encoding": {
        "x": {"datum": 1999.416, "type": "quantitative", "scale": {"domain": [1987.429, 2016.584], "nice": false, "zero": false}},
        "y": {"datum": 67.08, "type": "quantitative", "scale": {"domain": [8.91, 132.62], "nice": false, "zero": false}}
      }
    },
    {
      "data": {"values": [{}]},
      "mark": {"type": "text", "text": "Cambio", "font": "Lato", "fontWeight": "bold", "fontSize": 37, "angle": 299, "align": "center", "baseline": "middle", "color": "#000000"},
      "encoding": {
        "x": {"datum": 1998.779, "type": "quantitative", "scale": {"domain": [1987.429, 2016.584], "nice": false, "zero": false}},
        "y": {"datum": 65.54, "type": "quantitative", "scale": {"domain": [8.91, 132.62], "nice": false, "zero": false}}
      }
    },
    {
      "data": {"values": [{}]},
      "mark": {"type": "text", "text": "en tallas", "font": "Lato", "fontWeight": "bold", "fontSize": 37, "angle": 299, "align": "center", "baseline": "middle", "color": "#000000"},
      "encoding": {
        "x": {"datum": 1999.754, "type": "quantitative", "scale": {"domain": [1987.429, 2016.584], "nice": false, "zero": false}},
        "y": {"datum": 63.05, "type": "quantitative", "scale": {"domain": [8.91, 132.62], "nice": false, "zero": false}}
      }
    }
  ]
}
